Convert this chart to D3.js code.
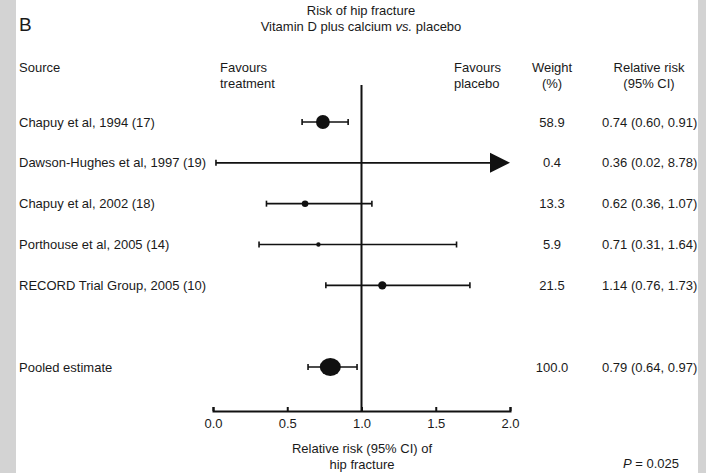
<!DOCTYPE html>
<html>
<head>
<meta charset="utf-8">
<script src="https://cdn.jsdelivr.net/npm/d3@7"></script>
<style>
  html, body { margin: 0; padding: 0; background: #fff; }
  svg { display: block; }
  text { font-family: "Liberation Sans", Arial, Helvetica, sans-serif; fill: #1a1a1a; }
</style>
</head>
<body>
<script>
const sources = ["Chapuy et al, 1994 (17)", "Dawson-Hughes et al, 1997 (19)", "Chapuy et al, 2002 (18)",
                 "Porthouse et al, 2005 (14)", "RECORD Trial Group, 2005 (10)", "Pooled estimate"];
const weights = [58.9, 0.4, 13.3, 5.9, 21.5, 100.0];
const rr      = [0.74, 0.36, 0.62, 0.71, 1.14, 0.79];
const lower   = [0.60, 0.02, 0.36, 0.31, 0.76, 0.64];
const upper   = [0.91, 8.78, 1.07, 1.64, 1.73, 0.97];
const ticks   = [0.0, 0.5, 1.0, 1.5, 2.0];
const rowKeys = ["s0", "s1", "s2", "s3", "s4", "gap", "s5"];

const W = 706, H = 473;
const svg = d3.select("body").append("svg").attr("width", W).attr("height", H);
svg.append("rect").attr("width", W).attr("height", H).attr("fill", "#fff");

const x = d3.scaleLinear().domain([0, 2]).range([213, 510]);
const y = d3.scalePoint().domain(rowKeys).range([122, 367]);
const r = d3.scaleSqrt().domain([0, 100]).range([0, 9]);
const fmt1 = d3.format(".1f"), fmt2 = d3.format(".2f");
const FS = 13;

const rows = sources.map((s, i) => ({
  source: s, w: weights[i], rr: rr[i], lo: lower[i], hi: upper[i],
  key: i === sources.length - 1 ? "s5" : "s" + i, pooled: i === sources.length - 1
}));

// Title
const t = (xx, yy, str, anchor, size, extra) => {
  const el = svg.append("text").attr("x", xx).attr("y", yy)
    .attr("text-anchor", anchor || "start").attr("font-size", size || FS);
  if (str !== null) el.text(str);
  return el;
};
t(19, 31, "B", "start", 19);
t(361, 15, "Risk of hip fracture", "middle");
const sub = t(361, 31, null, "middle");
sub.append("tspan").text("Vitamin D plus calcium ");
sub.append("tspan").attr("font-style", "italic").text("vs.");
sub.append("tspan").text(" placebo");

// Headers
t(19, 72, "Source");
t(220, 72, "Favours");
t(220, 88, "treatment");
t(454, 72, "Favours");
t(454, 88, "placebo");
t(552, 72, "Weight", "middle");
t(552, 88, "(%)", "middle");
t(649, 72, "Relative risk", "middle");
t(649, 88, "(95% CI)", "middle");

// Reference line at 1.0
svg.append("line").attr("x1", x(1)).attr("x2", x(1)).attr("y1", 85).attr("y2", 411)
  .attr("stroke", "#111").attr("stroke-width", 2);

// Axis
const axisY = 411;
const ax = svg.append("g").attr("transform", `translate(0,${axisY})`)
  .call(d3.axisBottom(x).tickValues(ticks).tickFormat(d3.format(".1f"))
        .tickSizeInner(-4).tickSizeOuter(-4).tickPadding(8));
ax.select(".domain").attr("stroke", "#111").attr("stroke-width", 2);
ax.selectAll(".tick line").attr("stroke", "#111").attr("stroke-width", 2);
ax.selectAll(".tick text").attr("font-size", FS).attr("fill", "#1a1a1a")
  .attr("font-family", "Liberation Sans, Arial, sans-serif");

// Rows
const g = svg.append("g");
rows.forEach(d => {
  const cy = y(d.key);
  t(19, cy + 4.5, d.source);
  t(552, cy + 4.5, fmt1(d.w), "middle");
  t(602, cy + 4.5, `${fmt2(d.rr)} (${fmt2(d.lo)}, ${fmt2(d.hi)})`);

  const over = d.hi > x.domain()[1];
  const x1 = x(d.lo), x2 = over ? x(x.domain()[1]) - 19 : x(d.hi);
  g.append("line").attr("x1", x1).attr("x2", x2).attr("y1", cy).attr("y2", cy)
    .attr("stroke", "#111").attr("stroke-width", 1.6);
  g.append("line").attr("x1", x1).attr("x2", x1).attr("y1", cy - 3).attr("y2", cy + 3)
    .attr("stroke", "#111").attr("stroke-width", 1.6);
  if (over) {
    const tip = x(x.domain()[1]);
    g.append("path").attr("d", `M${tip - 20},${cy - 10} L${tip},${cy} L${tip - 20},${cy + 10} Z`)
      .attr("fill", "#111");
  } else {
    g.append("line").attr("x1", x2).attr("x2", x2).attr("y1", cy - 3).attr("y2", cy + 3)
      .attr("stroke", "#111").attr("stroke-width", 1.6);
  }
  const rad = r(d.w);
  if (rad > 1) {
    g.append("ellipse").attr("cx", x(d.rr)).attr("cy", cy)
      .attr("rx", d.pooled ? rad * 1.17 : rad).attr("ry", rad).attr("fill", "#111");
  }
});

// Bottom labels
t(362, 453, "Relative risk (95% CI) of", "middle");
t(362, 469, "hip fracture", "middle");
const p = t(623, 468, null, "start");
p.append("tspan").attr("font-style", "italic").text("P");
p.append("tspan").text(" = 0.025");

// Gray side borders
svg.append("rect").attr("x", 0).attr("y", 0).attr("width", 16).attr("height", H).attr("fill", "#d3d3d3");
svg.append("rect").attr("x", 698).attr("y", 0).attr("width", 8).attr("height", H).attr("fill", "#d3d3d3");
</script>
</body>
</html>
